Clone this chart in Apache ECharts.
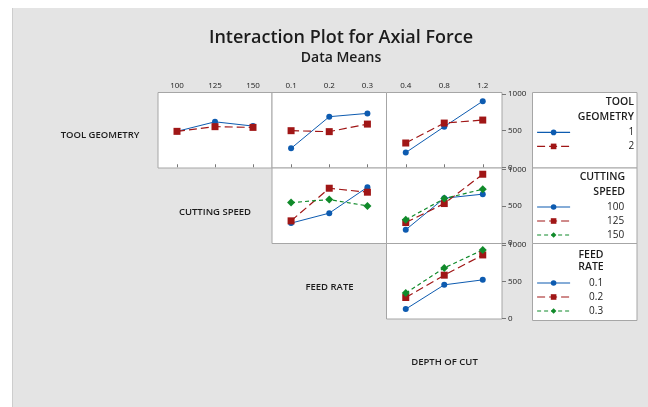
<!DOCTYPE html>
<html><head><meta charset="utf-8">
<script src="https://cdn.jsdelivr.net/npm/echarts@6/dist/echarts.min.js"></script>
<style>html,body{margin:0;padding:0;background:#fff}#c{width:648px;height:407px}</style>
</head><body><div id="c"></div>
<script>
// ---- data ----
const cuttingSpeeds = ['100', '125', '150'];
const feedRates = ['0.1', '0.2', '0.3'];
const depths = ['0.4', '0.8', '1.2'];
const toolGeometries = ['1', '2'];

// row 1: TOOL GEOMETRY lines
const tg1_vs_cs = [490, 620, 562];
const tg2_vs_cs = [490, 554, 544];
const tg1_vs_fr = [258, 690, 735];
const tg2_vs_fr = [499, 486, 589];
const tg1_vs_doc = [200, 554, 902];
const tg2_vs_doc = [331, 603, 644];
// row 2: CUTTING SPEED lines
const cs100_vs_fr = [268, 404, 758];
const cs125_vs_fr = [299, 744, 690];
const cs150_vs_fr = [548, 589, 503];
const cs100_vs_doc = [177, 608, 663];
const cs125_vs_doc = [276, 535, 935];
const cs150_vs_doc = [313, 603, 731];
// row 3: FEED RATE lines
const fr01_vs_doc = [125, 456, 524];
const fr02_vs_doc = [283, 588, 864];
const fr03_vs_doc = [343, 687, 932];

const yTicks = [0, 500, 1000];

// ---- styles ----
const FONT = '"Open Sans", "Noto Sans", sans-serif';
const TXT = '#1c1c1c';
const BLUE = '#0d5bb0', RED = '#a01616', GREEN = '#108a2a';
const sty = [
  {color: BLUE, symbol: 'circle', symbolSize: 6, lineType: 'solid', w: 1},
  {color: RED, symbol: 'rect', symbolSize: 7, lineType: [8, 4], w: 1.2},
  {color: GREEN, symbol: 'diamond', symbolSize: 8, lineType: [4, 3], w: 1.2}
];

const colX = [158, 272, 386.5], colW = [114, 114.5, 115.5];
const rowY = [92.5, 168, 243.5], rowH = 75.5;
const panels = [
  {r: 0, c: 0, cats: cuttingSpeeds, top: true},
  {r: 0, c: 1, cats: feedRates, top: true},
  {r: 0, c: 2, cats: depths, top: true, right: true},
  {r: 1, c: 1, cats: feedRates},
  {r: 1, c: 2, cats: depths, right: true},
  {r: 2, c: 2, cats: depths, right: true}
];
const grid = [], xAxis = [], yAxis = [];
panels.forEach((p, i) => {
  grid.push({left: colX[p.c], top: rowY[p.r], width: colW[p.c], height: rowH,
    show: true, backgroundColor: '#fff', borderColor: '#a6a6a6', borderWidth: 1});
  xAxis.push({type: 'category', gridIndex: i, data: p.cats, boundaryGap: true, position: 'top',
    axisLine: {show: false},
    axisTick: {show: !!p.top, alignWithLabel: true, length: 3, lineStyle: {color: '#777'}},
    axisLabel: {show: !!p.top, fontSize: 8, color: TXT, fontFamily: FONT, margin: 3}});
  yAxis.push({type: 'value', gridIndex: i, min: -10, max: 1020, position: 'right',
    splitLine: {show: false},
    axisLine: {show: false},
    axisTick: {show: !!p.right, length: 4, customValues: yTicks, lineStyle: {color: '#777'}},
    axisLabel: {show: !!p.right, customValues: yTicks, formatter: v => String(v),
      fontSize: 8, color: TXT, fontFamily: FONT, margin: 6}});
});

function mk(name, si, gi, data) {
  const s = sty[si];
  return {type: 'line', name: name, xAxisIndex: gi, yAxisIndex: gi, data: data,
    symbol: s.symbol, symbolSize: s.symbolSize, showSymbol: true, animation: false,
    itemStyle: {color: s.color},
    lineStyle: {color: s.color, type: s.lineType, width: s.w}};
}
const series = [
  mk(toolGeometries[0], 0, 0, tg1_vs_cs), mk(toolGeometries[1], 1, 0, tg2_vs_cs),
  mk(toolGeometries[0], 0, 1, tg1_vs_fr), mk(toolGeometries[1], 1, 1, tg2_vs_fr),
  mk(toolGeometries[0], 0, 2, tg1_vs_doc), mk(toolGeometries[1], 1, 2, tg2_vs_doc),
  mk(cuttingSpeeds[0], 0, 3, cs100_vs_fr), mk(cuttingSpeeds[1], 1, 3, cs125_vs_fr), mk(cuttingSpeeds[2], 2, 3, cs150_vs_fr),
  mk(cuttingSpeeds[0], 0, 4, cs100_vs_doc), mk(cuttingSpeeds[1], 1, 4, cs125_vs_doc), mk(cuttingSpeeds[2], 2, 4, cs150_vs_doc),
  mk(feedRates[0], 0, 5, fr01_vs_doc), mk(feedRates[1], 1, 5, fr02_vs_doc), mk(feedRates[2], 2, 5, fr03_vs_doc)
];

function legend(names, top, textW) {
  return {data: names, orient: 'vertical', left: 536.5, top: top, itemWidth: 33, itemHeight: 7,
    itemGap: 4, padding: 0, selectedMode: false,
    lineStyle: {width: 1.2},
    formatter: n => '{a|' + n + '}',
    textStyle: {color: TXT, fontFamily: FONT, fontSize: 10,
      rich: {a: {width: textW, align: 'right', fontSize: 10, fontFamily: FONT, color: TXT}}}};
}

const gText = (x, y, t, align, size, weight) => ({type: 'text', x: x, y: y, z: 10,
  style: {text: t, align: align, verticalAlign: 'middle', fill: TXT, font: (weight || 600) + ' ' + size + 'px ' + FONT}});

const graphic = [
  {type: 'rect', shape: {x: 12, y: 8, width: 636, height: 399}, style: {fill: '#e4e4e4'}, z: -10},
  {type: 'line', shape: {x1: 12.5, y1: 8, x2: 12.5, y2: 407}, style: {stroke: '#cdcdcd', lineWidth: 1}, z: -9},
  {type: 'rect', shape: {x: 532.5, y: 92.5, width: 104.5, height: 75.5}, style: {fill: '#fff', stroke: '#a6a6a6', lineWidth: 1}, z: -5},
  {type: 'rect', shape: {x: 532.5, y: 168, width: 104.5, height: 75.5}, style: {fill: '#fff', stroke: '#a6a6a6', lineWidth: 1}, z: -5},
  {type: 'rect', shape: {x: 532.5, y: 243.5, width: 104.5, height: 77}, style: {fill: '#fff', stroke: '#a6a6a6', lineWidth: 1}, z: -5},
  gText(634, 102.5, 'TOOL', 'right', 10.5), gText(634, 117.5, 'GEOMETRY', 'right', 10.5),
  gText(625, 177.5, 'CUTTING', 'right', 10.5), gText(625, 192.5, 'SPEED', 'right', 10.5),
  gText(591, 255, 'FEED', 'center', 10.5), gText(591, 267, 'RATE', 'center', 10.5),
  gText(100, 135.5, 'TOOL GEOMETRY', 'center', 9.5),
  gText(215, 212, 'CUTTING SPEED', 'center', 9.5),
  gText(329.5, 287.5, 'FEED RATE', 'center', 9.5),
  gText(444.5, 362.5, 'DEPTH OF CUT', 'center', 9.5)
];

const chart = echarts.init(document.getElementById('c'), null, {renderer: 'canvas'});
chart.setOption({
  backgroundColor: '#fff',
  animation: false,
  title: {text: 'Interaction Plot for Axial Force', subtext: 'Data Means', left: 336, top: 22, textAlign: 'center',
    itemGap: 1,
    textStyle: {fontFamily: FONT, fontSize: 18, fontWeight: 600, color: TXT, lineHeight: 22},
    subtextStyle: {fontFamily: FONT, fontSize: 14, fontWeight: 600, color: TXT, lineHeight: 16}},
  grid: grid, xAxis: xAxis, yAxis: yAxis, series: series, graphic: graphic,
  legend: [
    legend(toolGeometries, 127.4, 59),
    legend(cuttingSpeeds, 202, 49),
    legend(feedRates, 278, 28)
  ]
});
</script></body></html>
